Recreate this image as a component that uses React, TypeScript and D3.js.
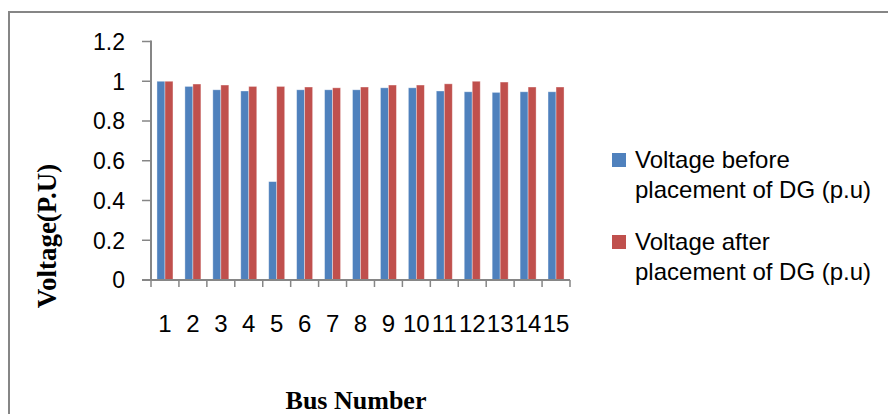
import React from "react";
import * as d3 from "d3";

const categories = ["1","2","3","4","5","6","7","8","9","10","11","12","13","14","15"];
const seriesNames = ["Voltage before placement of DG (p.u)", "Voltage after placement of DG (p.u)"];
const before = [1.0, 0.974, 0.957, 0.951, 0.495, 0.957, 0.957, 0.957, 0.967, 0.967, 0.951, 0.947, 0.944, 0.947, 0.947];
const after = [1.0, 0.986, 0.981, 0.974, 0.974, 0.971, 0.967, 0.971, 0.981, 0.981, 0.987, 1.0, 0.996, 0.971, 0.971];
const yTicks = [0, 0.2, 0.4, 0.6, 0.8, 1, 1.2];
const colors = ["#4F81BD", "#C0504D"];
const legendLines = [["Voltage before", "placement of DG (p.u)"], ["Voltage after", "placement of DG (p.u)"]];

const W = 888, H = 414;
const left = 151, right = 570, top = 41.5, bottom = 280;
const axisColor = "#868686";
const sans = "'Liberation Sans', Arial, sans-serif";
const serif = "'Liberation Serif', 'Times New Roman', serif";

export default function App() {
  const x0 = d3.scaleBand<string>().domain(categories).range([left, right]).padding(0);
  const bw = x0.bandwidth();
  const barW = 8;
  const x1 = d3.scaleBand<number>().domain([0, 1]).range([(bw - 2 * barW) / 2, (bw + 2 * barW) / 2]).padding(0);
  const y = d3.scaleLinear().domain([0, 1.2]).range([bottom, top]);
  const data = [before, after];
  const fmt = (v: number) => (v === 0 || v === 1 ? String(v) : d3.format(".1f")(v));

  return (
    <svg width={W} height={H} style={{ position: "absolute", left: 0, top: 0, background: "#fff" }}>
      <rect x={0} y={0} width={W} height={H} fill="#fff" />
      {/* frame */}
      <line x1={9} y1={12} x2={W} y2={12} stroke={axisColor} strokeWidth={2} />
      <line x1={9} y1={11} x2={9} y2={H} stroke={axisColor} strokeWidth={2} />

      {/* bars */}
      {data.map((s, si) =>
        s.map((v, i) => (
          <rect
            key={`${si}-${i}`}
            x={(x0(categories[i]) as number) + (x1(si) as number)}
            y={y(v)}
            width={x1.bandwidth()}
            height={bottom - y(v)}
            fill={colors[si]}
            stroke="rgba(255,255,255,0.45)"
            strokeWidth={0.8}
          />
        ))
      )}

      {/* y axis */}
      <line x1={left} y1={y(1.2) - 1} x2={left} y2={bottom} stroke={axisColor} strokeWidth={2} />
      {yTicks.map((t) => (
        <g key={t}>
          <line x1={left - 9} x2={left} y1={y(t)} y2={y(t)} stroke={axisColor} strokeWidth={1.5} />
          <text x={125} y={y(t)} dy="0.36em" textAnchor="end" fontFamily={sans} fontSize={23} fill="#000">
            {fmt(t)}
          </text>
        </g>
      ))}

      {/* x axis */}
      <line x1={left - 9} y1={bottom} x2={right} y2={bottom} stroke={axisColor} strokeWidth={2} />
      {categories.map((c) => (
        <line key={"t" + c} x1={x0(c) as number} x2={x0(c) as number} y1={bottom} y2={bottom + 7} stroke={axisColor} strokeWidth={1.5} />
      ))}
      <line x1={right} x2={right} y1={bottom} y2={bottom + 7} stroke={axisColor} strokeWidth={1.5} />
      {categories.map((c) => (
        <text key={"l" + c} x={(x0(c) as number) + bw / 2} y={332} textAnchor="middle" fontFamily={sans} fontSize={24} fill="#000">
          {c}
        </text>
      ))}

      {/* axis titles */}
      <text transform={`translate(56,236) rotate(-90)`} textAnchor="middle" fontFamily={serif} fontWeight="bold" fontSize={27} fill="#000">
        Voltage(P.U)
      </text>
      <text x={356} y={409} textAnchor="middle" fontFamily={serif} fontWeight="bold" fontSize={26} fill="#000">
        Bus Number
      </text>

      {/* legend */}
      {seriesNames.map((n, si) => {
        const by = si === 0 ? 168 : 250;
        return (
          <g key={n}>
            <rect x={612} y={by - 15} width={14} height={14} fill={colors[si]} />
            <text x={635} y={by} fontFamily={sans} fontSize={24} fill="#000">
              {legendLines[si][0]}
            </text>
            <text x={635} y={by + 30} fontFamily={sans} fontSize={24} fill="#000">
              {legendLines[si][1]}
            </text>
          </g>
        );
      })}
    </svg>
  );
}
